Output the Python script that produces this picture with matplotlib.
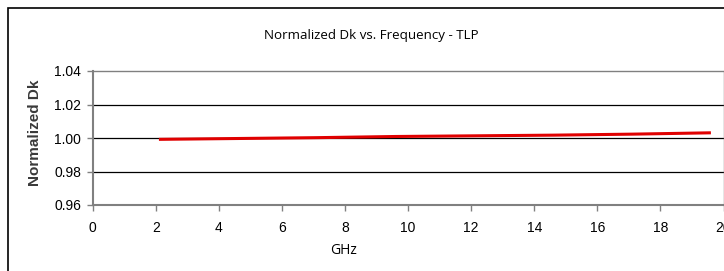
import matplotlib
matplotlib.use("Agg")
import matplotlib.pyplot as plt
from matplotlib.patches import Rectangle

freq_ghz = [2.1, 4.6, 7.1, 9.6, 12.1, 14.6, 17.1, 19.6]
norm_dk = [0.9992, 0.9997, 1.0002, 1.0009, 1.0013, 1.0017, 1.0023, 1.0031]
y_ticks = [0.96, 0.98, 1.00, 1.02, 1.04]
x_ticks = [0, 2, 4, 6, 8, 10, 12, 14, 16, 18, 20]

W, H = 724, 271
fig = plt.figure(figsize=(W / 100, H / 100), dpi=100)
fig.patch.set_facecolor("white")

# outer chart border
fig.patches.append(Rectangle((8 / W, -0.1), 1.2, (H - 8) / H + 0.1,
                             transform=fig.transFigure, fill=False,
                             edgecolor="black", linewidth=1.2))

left, right, top, bottom = 92.7, 723.5, 71, 205
ax = fig.add_axes([left / W, 1 - bottom / H, (right - left) / W, (bottom - top) / H])
ax.set_xlim(0, 20)
ax.set_ylim(0.96, 1.04)
ax.set_yticks(y_ticks)
ax.set_yticklabels([f"{v:.2f}" for v in y_ticks])
ax.set_xticks(x_ticks)
ax.set_xticklabels([str(v) for v in x_ticks])

for yv in y_ticks[1:-1]:
    ax.axhline(yv, color="black", linewidth=0.9, zorder=1)

for s in ax.spines.values():
    s.set_color("#808080")
    s.set_linewidth(1.0)
ax.spines["left"].set_linewidth(1.5)
ax.spines["bottom"].set_linewidth(1.5)

ax.tick_params(axis="both", direction="out", length=4, width=1.0, color="#808080",
               labelsize=10)
for lab in ax.get_xticklabels() + ax.get_yticklabels():
    lab.set_family("Liberation Sans")
ax.tick_params(axis="y", pad=4.5)
ax.tick_params(axis="x", pad=7.5)

ax.plot(freq_ghz, norm_dk, color="#e00000", linewidth=2.2, zorder=3,
        solid_capstyle="butt")

fig.text(371.5 / W, 1 - 35 / H, "Normalized Dk vs. Frequency - TLP", ha="center",
         va="center", fontsize=9.6, family="Open Sans")
fig.text(343.5 / W, 1 - 251 / H, "GHz", ha="center", va="center", fontsize=10,
         family="Open Sans")
fig.text(35 / W, 1 - 133 / H, "Normalized Dk", ha="center", va="center",
         rotation=90, fontsize=11, fontweight="bold", family="Liberation Sans",
         color="#3a3a3a")

fig.savefig("out.png", dpi=100)
